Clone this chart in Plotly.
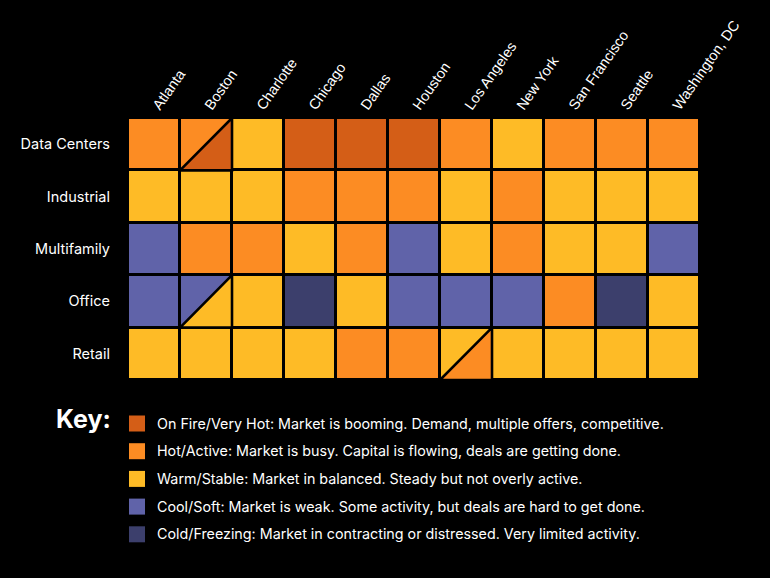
import plotly.graph_objects as go

# ---------------- data ----------------
cities = ["Atlanta", "Boston", "Charlotte", "Chicago", "Dallas", "Houston",
          "Los Angeles", "New York", "San Francisco", "Seattle", "Washington, DC"]
sectors = ["Data Centers", "Industrial", "Multifamily", "Office", "Retail"]

# 0 = On Fire/Very Hot, 1 = Hot/Active, 2 = Warm/Stable, 3 = Cool/Soft, 4 = Cold/Freezing
data_centers = [1, 1, 2, 0, 0, 0, 1, 2, 1, 1, 1]
industrial   = [2, 2, 2, 1, 1, 1, 2, 1, 2, 2, 2]
multifamily  = [3, 1, 1, 2, 1, 3, 2, 1, 2, 2, 3]
office       = [3, 3, 2, 4, 2, 3, 3, 3, 1, 4, 2]
retail       = [2, 2, 2, 2, 1, 1, 2, 2, 2, 2, 2]

# split cells: (sector, city, upper-left level, lower-right level)
split_cells = [
    ("Data Centers", "Boston", 1, 0),
    ("Office", "Boston", 3, 2),
    ("Retail", "Los Angeles", 2, 1),
]

level_colors = ["#D45E17", "#FC8C23", "#FEBB26", "#6063A9", "#3C3F6C"]
level_labels = [
    "On Fire/Very Hot: Market is booming. Demand, multiple offers, competitive.",
    "Hot/Active: Market is busy. Capital is flowing, deals are getting done.",
    "Warm/Stable: Market in balanced. Steady but not overly active.",
    "Cool/Soft: Market is weak. Some activity, but deals are hard to get done.",
    "Cold/Freezing: Market in contracting or distressed. Very limited activity.",
]
key_title = "Key:"

# ---------------- layout constants ----------------
W, H = 770, 578
ML, MR, MT, MB = 128, 70, 118, 198
PW, PH = W - ML - MR, H - MT - MB


def px_x(px):
    return (px - ML) / PW


def px_y(py):
    return (H - MB - py) / PH


z = [data_centers, industrial, multifamily, office, retail]
n = len(level_colors)
colorscale = []
for i, c in enumerate(level_colors):
    colorscale.append([i / n, c])
    colorscale.append([(i + 1) / n, c])

fig = go.Figure()
fig.add_trace(go.Heatmap(
    z=z, x=list(range(len(cities))), y=list(range(len(sectors))),
    colorscale=colorscale, zmin=-0.5, zmax=n - 0.5, showscale=False,
    xgap=3, ygap=3, hoverinfo="skip",
))

# diagonal split cells: lower-right triangle drawn over the heatmap cell
for sector, city, upper, lower in split_cells:
    cx = cities.index(city)
    cy = sectors.index(sector)
    xs = [cx - 0.5, cx + 0.5, cx + 0.5, cx - 0.5]
    ys = [cy + 0.5, cy - 0.5, cy + 0.5, cy + 0.5]
    fig.add_trace(go.Scatter(
        x=xs, y=ys, mode="lines", fill="toself", fillcolor=level_colors[lower],
        line=dict(color="#000000", width=2.6), showlegend=False, hoverinfo="skip",
    ))

# key
shapes = []
annotations = []
key_y0 = 423.5
key_step = 27.7
sw = 16
for i, (c, lab) in enumerate(zip(level_colors, level_labels)):
    cy = key_y0 + i * key_step
    shapes.append(dict(
        type="rect", xref="paper", yref="paper",
        x0=px_x(129), x1=px_x(129 + sw), y0=px_y(cy - sw / 2), y1=px_y(cy + sw / 2),
        fillcolor=c, line=dict(width=0),
    ))
    annotations.append(dict(
        text=lab, xref="paper", yref="paper", x=px_x(155), y=px_y(cy),
        xanchor="left", yanchor="middle", showarrow=False,
        font=dict(family="Inter", size=14.3, color="#FFFFFF"),
    ))
annotations.append(dict(
    text="<b>" + key_title + "</b>", xref="paper", yref="paper", x=px_x(54), y=px_y(419),
    xanchor="left", yanchor="middle", showarrow=False,
    font=dict(family="Inter", size=25, color="#FFFFFF"),
))

fig.update_layout(
    width=W, height=H,
    margin=dict(l=ML, r=MR, t=MT, b=MB),
    paper_bgcolor="#000000", plot_bgcolor="#000000",
    shapes=shapes, annotations=annotations,
    showlegend=False,
    xaxis=dict(
        side="top", tickmode="array", tickvals=list(range(len(cities))), ticktext=cities,
        tickangle=-55, range=[-0.5, len(cities) - 0.5], showgrid=False, zeroline=False,
        showline=False, ticks="",
        tickfont=dict(family="Liberation Sans", size=14.5, color="#FFFFFF"),
        fixedrange=True,
    ),
    yaxis=dict(
        tickmode="array", tickvals=list(range(len(sectors))), ticktext=sectors,
        range=[len(sectors) - 0.5, -0.5], showgrid=False, zeroline=False, showline=False,
        ticks="", ticklabelstandoff=17,
        tickfont=dict(family="Inter", size=14.5, color="#FFFFFF"), fixedrange=True,
    ),
)

fig.write_html(
    "out.html",
    config={"displayModeBar": False},
    post_script="document.body.style.margin='0';document.body.style.background='#000';",
)
